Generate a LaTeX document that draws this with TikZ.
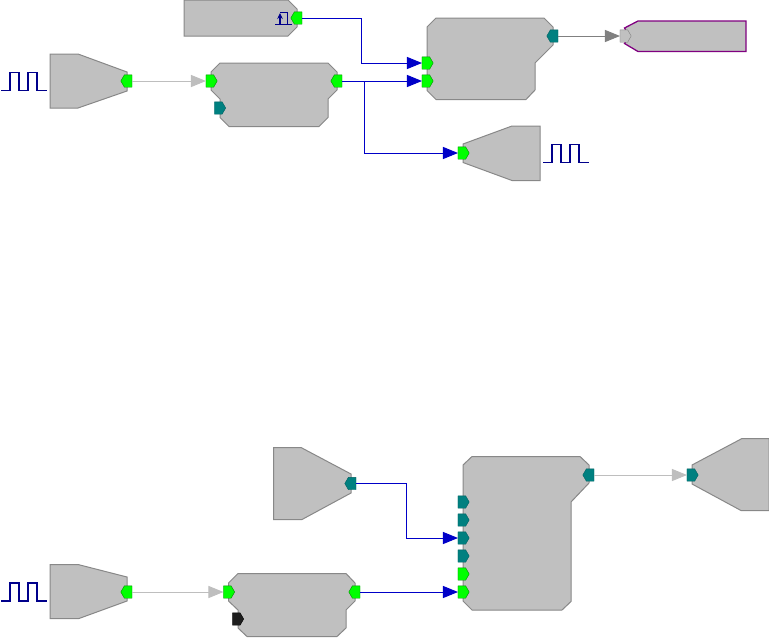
\documentclass[tikz,border=0pt]{standalone}
\usetikzlibrary{arrows.meta,shapes.symbols}
\definecolor{blockfill}{RGB}{192,192,192}
\definecolor{blockline}{RGB}{136,136,136}
\definecolor{wire}{RGB}{0,0,200}
\definecolor{wave}{RGB}{0,0,139}
\definecolor{lightwire}{RGB}{190,190,190}
\definecolor{greywire}{RGB}{128,128,128}
\definecolor{portgreen}{RGB}{0,255,0}
\definecolor{portteal}{RGB}{0,128,128}
\definecolor{portblack}{RGB}{30,30,30}
\definecolor{sinkline}{RGB}{128,0,128}
\tikzset{
  block/.style={draw=blockline,line width=.25mm,fill=blockfill},
  sink/.style={draw=sinkline,line width=.32mm,fill=blockfill},
  port/.style={signal,signal from=nowhere,signal pointer angle=120,minimum width=2.8mm,minimum height=3.1mm,inner sep=0pt,outer sep=0pt,line width=.1mm},
  pin/.style={port,signal to=east,xshift=-.3mm},
  pout/.style={port,signal to=west,xshift=.3mm},
  pg/.style={draw=green!55!black,fill=portgreen},
  pt/.style={draw=portteal!75!black,fill=portteal},
  pk/.style={draw=black,fill=portblack},
  pgrey/.style={draw=greywire,fill=blockfill},
  ar/.style={-{Triangle[length=3.75mm,width=3mm]},draw=wire,line width=.25mm},
  arl/.style={ar,draw=lightwire},
  arg/.style={ar,draw=greywire},
  pulse/.style={draw=wave,line width=.4mm},
}

\begin{document}
\begin{tikzpicture}[x=.25mm,y=-.25mm]
  \useasboundingbox (0,0) rectangle (769,637);
  \draw[block] (184,0) -- (288,0) -- (297,9) -- (297,27) -- (288,36) -- (184,36) -- cycle;
  \draw[block] (50,54) -- (78,54) -- (127,72) -- (127,91) -- (78,108) -- (50,108) -- cycle;
  \draw[block] (220,63) -- (328,63) -- (337,72) -- (337,90) -- (328,99) -- (328,117.5) -- (319,126.5) -- (229,126.5) -- (220,117.5) -- (220,99) -- (211,90) -- (211,72) -- cycle;
  \draw[block] (436,18) -- (544,18) -- (553,27) -- (553,45) -- (535,63) -- (535,90) -- (526,99.5) -- (436,99.5) -- (427,90.5) -- (427,27) -- cycle;
  \draw[sink] (638,21) -- (746,21) -- (746,51.5) -- (638,51.5) -- (624.5,43.5) -- (629,36) -- (624.5,28) -- cycle;
  \draw[block] (463,144) -- (512,126) -- (540,126) -- (540,180.5) -- (512,180.5) -- (463,162.5) -- cycle;
  \draw[block] (273.5,447.5) -- (301,447.5) -- (351,474) -- (351,493) -- (302,519.5) -- (273.5,519.5) -- cycle;
  \draw[block] (50,564.5) -- (78,564.5) -- (127,577) -- (127,601) -- (79,618.5) -- (50,618.5) -- cycle;
  \draw[block] (238,573.5) -- (346,573.5) -- (355,583) -- (355,601) -- (346,610) -- (346,628) -- (337,636.5) -- (247,636.5) -- (238,628) -- (238,610) -- (228.5,601) -- (228.5,583) -- cycle;
  \draw[block] (472,456.5) -- (580,456.5) -- (589,465) -- (589,483) -- (571,502) -- (571,601.5) -- (562,610) -- (472,610) -- (463,601) -- (463,465) -- cycle;
  \draw[block] (692,465) -- (742,438.5) -- (769,438.5) -- (769,510.5) -- (741,510.5) -- (692,484) -- cycle;

  \foreach \x/\y in {1/90.5,1/601,543/162.5} {
    \draw[pulse] (\x,\y) -- ++(9,0) -- ++(0,-18) -- ++(9,0) -- ++(0,18) -- ++(9,0) -- ++(0,-18) -- ++(9,0) -- ++(0,18) -- ++(9.5,0);
  }
  \draw[pulse] (275,24.5) -- (292,24.5) (287.5,24.5) -- (287.5,12.5) -- (280,12.5);
  \draw[pulse,-{Stealth[length=1.5mm,width=1.4mm]}] (280,24.5) -- (280,13);

  \node[pout,pg] (genout) at (127,81) {};
  \node[pout,pg] (edgeout) at (297,18) {};
  \node[pin,pg] (filtin) at (211,81) {};
  \node[pout,pg] (filtout) at (337,81) {};
  \node[pin,pt] (filtaux) at (219.5,108) {};
  \node[pin,pg] (mixa) at (427,63) {};
  \node[pin,pg] (mixb) at (427,81) {};
  \node[pout,pt] (mixout) at (553,36) {};
  \node[pin,pgrey] (sinkin) at (625,36) {};
  \node[pin,pg] (scopein) at (463,153) {};
  \node[pout,pt] (refout) at (351,483.5) {};
  \node[pout,pg] (genoutb) at (127,592) {};
  \node[pin,pg] (filtinb) at (228.5,592) {};
  \node[pout,pg] (filtoutb) at (355,592) {};
  \node[pin,pk] (filtauxb) at (237.5,619) {};
  \foreach \n/\y/\s in {a/502/pt,b/520/pt,c/538/pt,d/556/pt,e/574/pg,f/592/pg} {
    \node[pin,\s] (sum\n) at (463,\y) {};
  }
  \node[pout,pt] (sumout) at (589,475) {};
  \node[pin,pt] (scopeinb) at (692,475) {};

  \coordinate (elbowa) at (361.5,18);
  \coordinate (elbowb) at (364.5,81);
  \coordinate (elbowc) at (406.5,483.5);
  \draw[arl] (genout) -- (filtin);
  \draw[ar] (edgeout) -- (elbowa) |- (mixa);
  \draw[ar] (filtout) -- (mixb);
  \draw[ar] (elbowb) |- (scopein);
  \draw[arg] (mixout) -- (sinkin);
  \draw[ar] (refout) -- (elbowc) |- (sumc);
  \draw[arl] (genoutb) -- (filtinb);
  \draw[ar] (filtoutb) -- (sumf);
  \draw[arl] (sumout) -- (scopeinb);
\end{tikzpicture}
\end{document}
